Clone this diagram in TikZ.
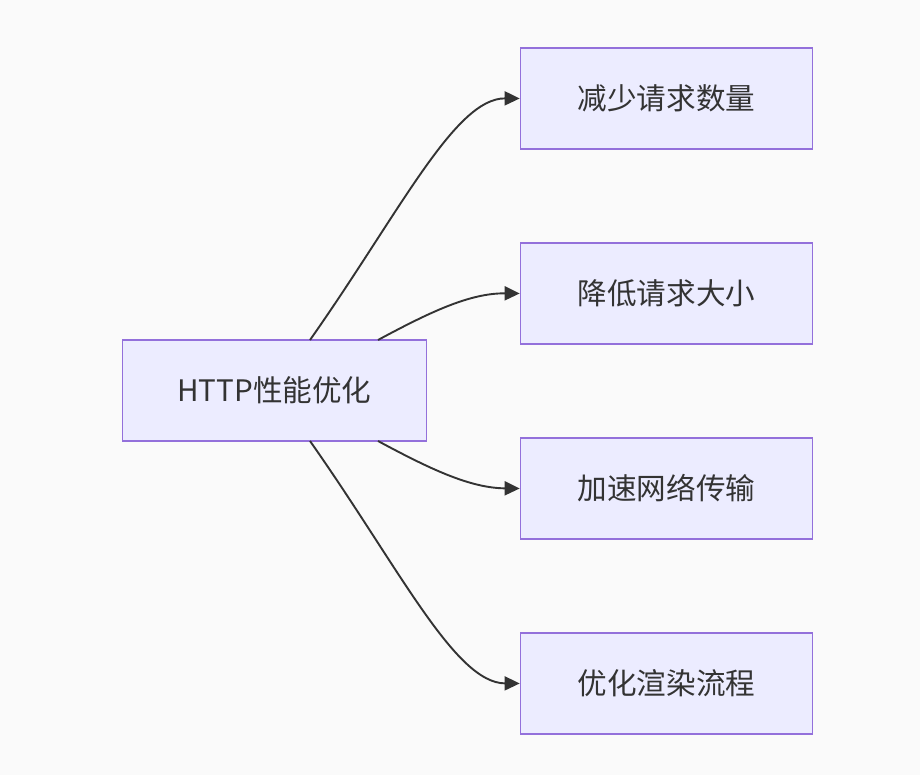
\documentclass[tikz,border=0pt]{standalone}
\usepackage{fontspec}
\setmainfont{Noto Sans CJK SC}
\usetikzlibrary{arrows.meta}
\definecolor{bgc}{HTML}{FAFAFA}
\definecolor{nodefill}{HTML}{ECECFF}
\definecolor{nodeborder}{HTML}{9370DB}
\definecolor{linec}{HTML}{333333}
\tikzset{
  box/.style={draw=nodeborder, fill=nodefill, line width=1.7pt, minimum width=292pt, minimum height=101pt, inner sep=0pt, font=\fontsize{29.6}{34}\selectfont, text=linec},
  conn/.style={draw=linec, line width=1.9pt, -{Triangle[length=15pt,width=14pt]}}
}
\begin{document}
\begin{tikzpicture}[x=1pt,y=-1pt]
\fill[bgc] (0,0) rectangle (920,775);
\useasboundingbox (0,0) rectangle (920,775);
\node[box, minimum width=304pt] (c) at (274.5,390.5) {HTTP性能优化};
\node[box] (a) at (666.5,98.5) {减少请求数量};
\node[box] (b) at (666.5,293.5) {降低请求大小};
\node[box] (d) at (666.5,488.5) {加速网络传输};
\node[box] (e) at (666.5,683.5) {优化渲染流程};
\coordinate (c1) at (310,340);
\coordinate (c2) at (378,340);
\coordinate (c3) at (378,441);
\coordinate (c4) at (310,441);
\draw[conn] (c1) .. controls (400,212) and (455,98) .. (a.west);
\draw[conn] (c2) .. controls (430,312) and (470,293) .. (b.west);
\draw[conn] (c3) .. controls (430,469) and (470,488) .. (d.west);
\draw[conn] (c4) .. controls (400,569) and (455,683) .. (e.west);
\end{tikzpicture}
\end{document}
